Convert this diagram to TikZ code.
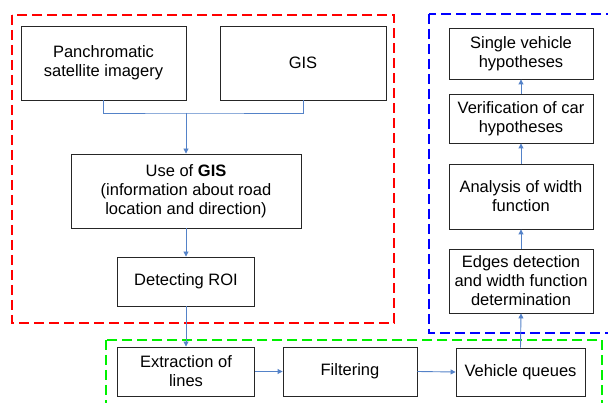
\documentclass[tikz,border=0pt]{standalone}
\usepackage{fontspec}
\setmainfont{Liberation Sans}
\usetikzlibrary{arrows.meta}
\definecolor{arrblue}{RGB}{84,130,200}
\definecolor{redd}{RGB}{255,0,0}
\definecolor{blued}{RGB}{0,0,255}
\definecolor{greend}{RGB}{0,240,0}
\begin{document}
\begin{tikzpicture}[x=1pt,y=-1pt,
  box/.style={draw=black!85,line width=0.9pt,inner sep=0pt,align=center,
    font=\fontsize{16.5}{19}\selectfont},
  arr/.style={draw=arrblue,line width=0.9pt,-{Triangle[width=5pt,length=5pt]}},
  conn/.style={draw=arrblue,line width=0.9pt},
  grp/.style={line width=2.4pt,dash pattern=on 10pt off 5pt}]
\useasboundingbox (0,0) rectangle (608,403);
\clip (0,0) rectangle (608,403);
% group frames
\draw[grp,draw=redd] (12,15) rectangle (394,323);
\draw[grp,draw=blued] (429,14) rectangle (616,333);
\draw[grp,draw=greend] (106,340) rectangle (602,412);
% nodes
\node[box,minimum width=165pt,minimum height=74pt] (pan) at (103.5,63) {Panchromatic\\satellite imagery};
\node[box,minimum width=166pt,minimum height=74pt] (gis) at (303,63) {GIS};
\node[box,minimum width=230pt,minimum height=74pt] (use) at (186,191) {Use of \textbf{GIS}\\(information about road\\location and direction)};
\node[box,minimum width=137pt,minimum height=49pt] (roi) at (186,281.5) {Detecting ROI};
\node[box,minimum width=137pt,minimum height=49pt] (ext) at (186,371.5) {Extraction of\\lines};
\node[box,minimum width=134pt,minimum height=49pt] (fil) at (350,371.5) {Filtering};
\node[box,minimum width=129pt,minimum height=48pt] (veh) at (520.5,372) {Vehicle queues};
\node[box,minimum width=144pt,minimum height=51pt] (sin) at (521,53.5) {Single vehicle\\hypotheses};
\node[box,minimum width=144pt,minimum height=49pt] (ver) at (521,118.5) {Verification of car\\hypotheses};
\node[box,minimum width=144pt,minimum height=65pt] (ana) at (521,196.5) {Analysis of width\\function};
\node[box,minimum width=144pt,minimum height=64pt] (edg) at (521,281) {Edges detection\\and width function\\determination};
% connectors
\coordinate (j) at (186,113);
\draw[conn] (pan.south) |- (j) -| (gis.south);
\draw[arr] (j) -- (use.north);
\draw[arr] (use.south) -- (roi.north);
\draw[arr] (roi.south) -- (ext.north);
\draw[arr] (ext.east) -- (fil.west);
\draw[arr] (fil.east) -- (veh.west);
\draw[arr] (veh.north) -- (edg.south);
\draw[arr] (edg.north) -- (ana.south);
\draw[arr] (ana.north) -- (ver.south);
\draw[arr] (ver.north) -- (sin.south);
\end{tikzpicture}
\end{document}
